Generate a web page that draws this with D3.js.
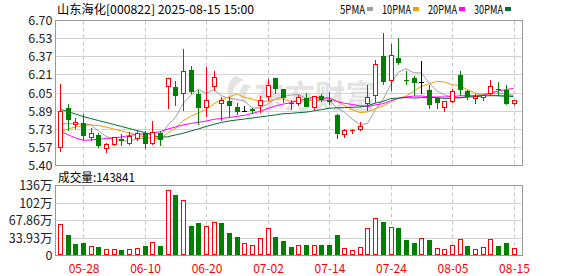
<!DOCTYPE html>
<html><head><meta charset="utf-8">
<script src="https://cdn.jsdelivr.net/npm/d3@7"></script>
<style>
html,body{margin:0;padding:0;background:#fff;}
svg{display:block;}
text{font-family:SimSun,"Noto Sans CJK SC",sans-serif;}
</style></head>
<body><svg id="c" width="578" height="276"></svg>
<script>
const dates = ["05-23","05-26","05-27","05-28","05-29","05-30","06-03","06-04","06-05","06-06","06-09","06-10","06-11","06-12","06-13","06-16","06-17","06-18","06-19","06-20","06-23","06-24","06-25","06-26","06-27","06-30","07-01","07-02","07-03","07-04","07-07","07-08","07-09","07-10","07-11","07-14","07-15","07-16","07-17","07-18","07-21","07-22","07-23","07-24","07-25","07-28","07-29","07-30","07-31","08-01","08-04","08-05","08-06","08-07","08-08","08-11","08-12","08-13","08-14","08-15"];
const open  = [5.56,5.91,5.77,5.78,5.65,5.67,5.55,5.59,5.63,5.60,5.64,5.69,5.60,5.69,6.11,6.10,6.05,6.25,6.04,5.92,6.11,5.96,5.97,5.92,5.885,5.90,5.94,6.02,6.18,6.08,5.96,5.96,6.00,5.92,6.02,5.98,5.85,5.68,5.71,5.72,5.96,6.03,6.38,6.16,6.36,6.165,6.18,6.14,6.07,6.00,5.92,5.97,6.21,6.06,6.00,6.01,6.05,6.085,6.07,5.96];
const high  = [6.13,5.95,5.83,5.86,5.74,5.69,5.60,5.66,5.68,5.70,5.71,5.71,5.80,5.70,6.18,6.16,6.44,6.29,6.08,6.28,6.25,6.01,6.01,5.96,5.93,5.92,6.02,6.18,6.18,6.08,5.99,6.03,6.05,6.02,6.04,6.06,5.86,5.73,5.73,5.79,6.12,6.35,6.59,6.49,6.54,6.25,6.20,6.34,6.12,6.00,5.98,6.09,6.25,6.08,6.04,6.03,6.17,6.15,6.12,5.99];
const low   = [5.53,5.72,5.74,5.64,5.63,5.57,5.52,5.58,5.58,5.59,5.63,5.56,5.59,5.58,5.92,5.94,5.90,6.05,5.77,5.84,6.08,5.81,5.84,5.86,5.885,5.87,5.88,5.99,6.05,5.97,5.91,5.94,5.93,5.91,5.98,5.95,5.65,5.66,5.69,5.72,5.90,5.97,6.13,6.08,6.31,6.13,6.03,6.05,5.92,5.92,5.89,5.97,6.03,6.00,5.96,5.99,6.03,6.03,5.95,5.95];
const close = [5.88,5.81,5.79,5.67,5.69,5.58,5.585,5.65,5.62,5.66,5.69,5.60,5.70,5.63,6.18,6.03,6.24,6.06,5.92,5.98,6.19,5.98,5.94,5.88,5.885,5.89,5.98,6.12,6.09,6.01,5.955,6.01,5.93,6.02,5.99,5.975,5.69,5.71,5.715,5.75,6.01,6.31,6.15,6.39,6.32,6.16,6.14,6.14,5.95,5.965,5.97,6.06,6.08,6.02,6.022,6.025,6.11,6.08,5.96,5.98];
// volume in 万 shares
const volume = [60.4,38.0,21.6,23.6,17.7,15.7,11.2,11.2,9.8,11.8,13.8,18.3,25.0,18.3,125.3,116.1,106.2,57.0,63.0,57.0,64.9,62.9,43.3,35.4,23.0,19.1,33.4,53.1,35.4,27.5,15.7,19.1,19.7,19.1,19.7,19.7,39.3,13.1,9.2,15.7,52.5,72.2,64.9,55.1,53.1,29.5,24.2,33.4,29.5,13.8,11.8,19.7,31.5,18.3,11.8,15.7,31.5,18.3,23.6,14.3841];
const ma5  = [5.775,5.775,5.775,5.770,5.768,5.708,5.662,5.634,5.624,5.618,5.640,5.644,5.654,5.656,5.760,5.828,5.956,6.028,6.086,6.046,6.078,6.026,6.002,5.994,5.976,5.916,5.916,5.952,5.994,6.018,6.031,6.037,5.999,5.985,5.981,5.985,5.921,5.877,5.816,5.768,5.775,5.899,5.987,6.122,6.236,6.266,6.232,6.230,6.142,6.072,6.032,6.016,6.004,6.018,6.028,6.040,6.050,6.050,6.038,6.030];
const ma10 = [5.700,5.727,5.745,5.759,5.763,5.759,5.745,5.727,5.709,5.693,5.674,5.653,5.644,5.640,5.689,5.734,5.800,5.841,5.871,5.903,5.953,5.991,6.015,6.040,6.011,5.997,5.971,5.977,5.994,5.997,5.974,5.977,5.976,5.990,6.000,6.008,5.979,5.938,5.901,5.875,5.880,5.910,5.932,5.969,6.002,6.021,6.066,6.109,6.132,6.154,6.149,6.124,6.117,6.080,6.050,6.036,6.033,6.027,6.028,6.029];
const ma20 = [5.705,5.678,5.647,5.626,5.629,5.635,5.642,5.648,5.655,5.669,5.678,5.685,5.691,5.703,5.727,5.745,5.763,5.777,5.787,5.798,5.814,5.822,5.830,5.840,5.850,5.866,5.886,5.909,5.933,5.950,5.963,5.984,5.995,6.015,6.005,6.003,5.975,5.958,5.947,5.936,5.927,5.943,5.954,5.979,6.001,6.014,6.022,6.023,6.016,6.014,6.015,6.017,6.025,6.025,6.026,6.028,6.049,6.068,6.080,6.092];
const ma30 = [5.904,5.884,5.862,5.839,5.821,5.803,5.786,5.768,5.750,5.732,5.714,5.696,5.673,5.651,5.658,5.673,5.689,5.709,5.727,5.750,5.769,5.786,5.799,5.808,5.817,5.826,5.835,5.844,5.853,5.864,5.867,5.874,5.878,5.890,5.900,5.913,5.917,5.919,5.922,5.925,5.936,5.959,5.974,6.000,6.004,6.009,6.005,6.008,6.009,6.009,6.001,6.004,6.008,6.013,6.017,6.022,6.026,6.025,6.020,6.019];
const priceTickValues = [6.70,6.5375,6.375,6.2125,6.05,5.8875,5.725,5.5625,5.40];
const priceTickLabels = ["6.70","6.53","6.37","6.21","6.05","5.89","5.73","5.57","5.40"];
const volTickValues = [135.72,101.79,67.86,33.93,0];
const volTickLabels = ["136万","102万","67.86万","33.93万","0"];
const xTickDates = ["05-28","06-10","06-20","07-02","07-14","07-24","08-05","08-15"];
const maNames = ["5PMA","10PMA","20PMA","30PMA"];
const maColors = ["#a0a0a0","#f0a000","#ff00ff","#006e33"];
const title = "山东海化[000822] 2025-08-15 15:00";
const volLabel = "成交量:143841";
const watermark = "东方财富";

const svg = d3.select("#c");
svg.append("rect").attr("width",578).attr("height",276).attr("fill","#fff");

const L = 55.5, R = 522.5, T = 20.5, B = 165.5, VT = 185.5, VB = 255.5;
const x = d3.scalePoint().domain(dates).range([60, 513.5]);
const y = d3.scaleLinear().domain([5.40, 6.70]).range([B, T]);
const yv = d3.scaleLinear().domain([0, 135.72]).range([VB, VT]);
const px = d => Math.round(x(d));
const snap = v => Math.round(v) + 0.5;

// watermark
const wmCol = "#e3e3e3";
const wm = svg.append("g");
wm.append("path").attr("d","M236,76 C226,80 224,98 236,106 C230,96 232,84 244,80 Z M244,84 C238,90 238,100 248,104 C244,96 246,90 252,86 Z")
  .attr("fill",wmCol);
wm.append("text").attr("x",254).attr("y",108).attr("font-size",32).attr("font-weight","bold")
  .attr("fill",wmCol).attr("textLength",122).attr("lengthAdjust","spacingAndGlyphs").text(watermark);

// horizontal grids
function hgrid(scale, vals) {
  svg.append("g").selectAll("line").data(vals).join("line")
    .attr("x1",L).attr("x2",R).attr("y1",d=>snap(scale(d)-0.5)).attr("y2",d=>snap(scale(d)-0.5))
    .attr("stroke","#d3d3d3").attr("stroke-width",1);
}
hgrid(y, priceTickValues);
hgrid(yv, volTickValues);
// vertical dashed grids
[[T,B],[VT,VB]].forEach(([a,b]) => {
  svg.append("g").selectAll("line").data(xTickDates).join("line")
    .attr("x1",d=>px(d)+0.5).attr("x2",d=>px(d)+0.5).attr("y1",a).attr("y2",b)
    .attr("stroke","#c8c8c8").attr("stroke-dasharray","4,3");
});

// y axes labels via d3 axis
function yAxis(scale, vals, labels) {
  const g = svg.append("g").attr("transform",`translate(${L - 3},0)`)
    .call(d3.axisLeft(scale).tickValues(vals).tickSize(0).tickPadding(0).tickFormat((d,i)=>labels[i]));
  g.select(".domain").remove();
  g.selectAll("text").attr("font-family","'Liberation Sans',Arial,sans-serif").attr("font-size",12.5).attr("fill","#222");
}
yAxis(y, priceTickValues, priceTickLabels);
yAxis(yv, volTickValues, volTickLabels);

// x axis labels
const gx = svg.append("g").attr("transform",`translate(0.5,${VB})`)
  .call(d3.axisBottom(x).tickValues(xTickDates).tickSize(0).tickPadding(9));
gx.select(".domain").remove();
gx.selectAll("text").attr("font-size",12).attr("fill","#ff0000").attr("font-family","SimSun,'Noto Sans CJK SC',sans-serif");

// MA lines
[ma5, ma10, ma20, ma30].forEach((arr, k) => {
  svg.append("path").datum(arr)
    .attr("d", d3.line().x((d,i)=>x(dates[i])).y(d=>y(d)))
    .attr("fill","none").attr("stroke",maColors[k]).attr("stroke-width",1);
});

// candles
const cg = svg.append("g");
dates.forEach((d,i) => {
  const o = open[i], c = close[i], h = high[i], l = low[i];
  const cx = px(d);
  const col = c > o ? "#ff0000" : (c < o ? "#008000" : "#000000");
  cg.append("line").attr("x1",cx+0.5).attr("x2",cx+0.5)
    .attr("y1",Math.round(y(h))).attr("y2",Math.round(y(l))+1).attr("stroke",col);
  const top = snap(y(Math.max(o,c)) - 0.5), bot = snap(y(Math.min(o,c)) - 0.5);
  if (bot - top < 1) {
    cg.append("line").attr("x1",cx-2).attr("x2",cx+3).attr("y1",top).attr("y2",top).attr("stroke",col);
  } else {
    cg.append("rect").attr("x",cx-1.5).attr("width",4).attr("y",top).attr("height",bot-top)
      .attr("fill", c > o ? "#fff" : col).attr("stroke",col);
  }
});

// volume bars
const vg = svg.append("g");
dates.forEach((d,i) => {
  const up = i === 0 ? close[i] >= open[i] : close[i] >= close[i-1];
  const col = up ? "#ff0000" : "#008000";
  const cx = px(d);
  const top = snap(yv(volume[i]) - 0.5);
  vg.append("rect").attr("x",cx-1.5).attr("width",4).attr("y",top).attr("height",Math.max(VB - 1 - top,0))
    .attr("fill", up ? "#fff" : col).attr("stroke",col);
});

// frames
svg.append("rect").attr("x",L).attr("y",T).attr("width",R-L).attr("height",B-T).attr("fill","none").attr("stroke","#999");
svg.append("rect").attr("x",L).attr("y",VT).attr("width",R-L).attr("height",VB-VT).attr("fill","none").attr("stroke","#999");

// title and legend
svg.append("text").attr("x",57).attr("y",14).attr("font-size",12).attr("fill","#000")
  .attr("textLength",197).attr("lengthAdjust","spacingAndGlyphs").text(title);
const legX = [340, 382, 428, 474], legW = [25, 29, 29, 29];
maNames.forEach((n,k) => {
  svg.append("text").attr("x",legX[k]).attr("y",14).attr("font-size",12).attr("fill","#000")
    .attr("textLength",legW[k]).attr("lengthAdjust","spacingAndGlyphs").text(n);
  svg.append("rect").attr("x",legX[k]+legW[k]+2).attr("y",7).attr("width",6).attr("height",4).attr("fill",maColors[k]);
});
svg.append("text").attr("x",58).attr("y",181.5).attr("font-size",12).attr("fill","#000")
  .attr("textLength",77).attr("lengthAdjust","spacingAndGlyphs").text(volLabel);
</script></body></html>
